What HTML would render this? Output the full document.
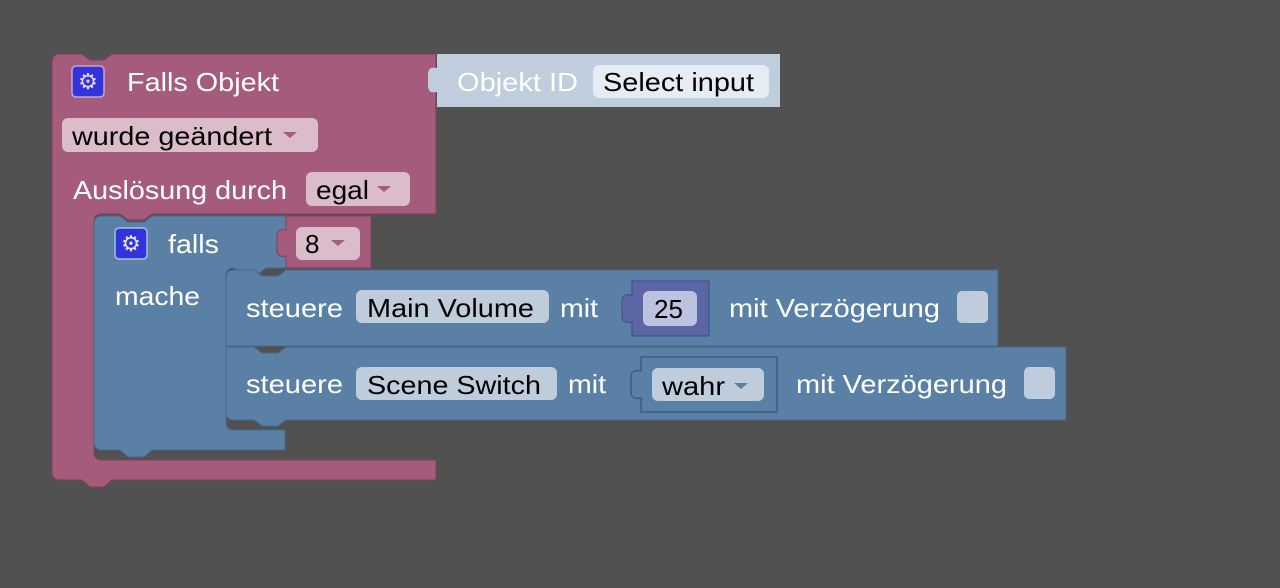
<!DOCTYPE html>
<html><head><meta charset="utf-8"><style>
html,body{margin:0;padding:0;background:#515151;}
svg{display:block;font-family:"Liberation Sans",sans-serif;}
.w{fill:#fff;font-size:26px;}
.b{fill:#000;font-size:26px;}
</style></head><body>
<svg width="1280" height="588" viewBox="0 0 1280 588">
<rect width="1280" height="588" fill="#515151"/>
<!-- pink outer block -->
<path d="M60,54 H82 L90,60 H104 L112,54 H436 V214 H152 L144,220 H128 L120,214 H102 Q94,214 94,222 V452 Q94,460 102,460 H436 V480 H112 L104,487 H90 L82,480 H60 Q52,480 52,472 V62 Q52,54 60,54 Z" fill="#a55b7c" stroke="#7f3f5d" stroke-width="1"/>
<!-- objekt id block -->
<path d="M437,54 H780 V107 H437 V92 Q428,94 428,86 V74 Q428,66 437,68 Z" fill="#bfcddc"/>
<text x="457" y="91" class="w" textLength="121" lengthAdjust="spacingAndGlyphs">Objekt ID</text>
<rect x="593" y="65" width="176" height="33" rx="6" fill="#e6ecf3"/>
<text x="603" y="91" class="b" textLength="151" lengthAdjust="spacingAndGlyphs">Select input</text>
<!-- gear 1 -->
<rect x="72" y="66" width="32" height="31" rx="4" fill="#3333dd" stroke="#c9a7c5" stroke-width="1.5"/>
<text x="88" y="89" text-anchor="middle" style="fill:#e0d6ee;font-size:22px;font-family:'DejaVu Sans',sans-serif">⚙</text>
<text x="127" y="91" class="w" textLength="152" lengthAdjust="spacingAndGlyphs">Falls Objekt</text>
<rect x="62" y="118" width="256" height="34" rx="6" fill="#dbbccb"/>
<text x="72" y="145" class="b" textLength="200" lengthAdjust="spacingAndGlyphs">wurde geändert</text>
<path d="M283,132 h14 l-7,6 z" fill="#a55b7c"/>
<text x="73" y="199" class="w" textLength="214" lengthAdjust="spacingAndGlyphs">Auslösung durch</text>
<rect x="306" y="172" width="104" height="34" rx="6" fill="#dbbccb"/>
<text x="316" y="199" class="b" textLength="53" lengthAdjust="spacingAndGlyphs">egal</text>
<path d="M377,186 h14 l-7,6 z" fill="#a55b7c"/>
<!-- blue falls block -->
<path d="M102,216 H120 L128,222 H144 L152,216 H286 V268 H286 L286,268 H266 L258,274 H242 L234,268 Q226,268 226,276 V422 Q226,430 234,430 H285 V450 H152 L144,457 H128 L120,450 H102 Q94,450 94,442 V224 Q94,216 102,216 Z" fill="#5b80a5" stroke="#466688" stroke-width="1"/>
<!-- pink 8 block -->
<path d="M286,216 H371 V268 H286 V256 Q277,258 277,250 V236 Q277,228 286,230 Z" fill="#a55b7c" stroke="#7f3f5d" stroke-width="1"/>
<rect x="296" y="227" width="64" height="33" rx="6" fill="#dbbccb"/>
<text x="305" y="253" class="b">8</text>
<path d="M331,240 h14 l-7,6 z" fill="#a55b7c"/>
<rect x="115" y="228" width="32" height="31" rx="4" fill="#3333dd" stroke="#a8bfd6" stroke-width="1.5"/>
<text x="131" y="251" text-anchor="middle" style="fill:#e0e6f4;font-size:22px;font-family:'DejaVu Sans',sans-serif">⚙</text>
<text x="168" y="253" class="w" textLength="51" lengthAdjust="spacingAndGlyphs">falls</text>
<text x="115" y="305" class="w" textLength="85" lengthAdjust="spacingAndGlyphs">mache</text>
<!-- steuere 1 -->
<path d="M234,270 H254 L262,276 H278 L286,270 H998 V346 H226 V278 Q226,270 234,270 Z" fill="#5b80a5" stroke="#466688" stroke-width="1"/>
<text x="246" y="317" class="w" textLength="97" lengthAdjust="spacingAndGlyphs">steuere</text>
<rect x="356" y="290" width="193" height="33" rx="6" fill="#bfccdc"/>
<text x="367" y="317" class="b" textLength="167" lengthAdjust="spacingAndGlyphs">Main Volume</text>
<text x="560" y="317" class="w" textLength="38" lengthAdjust="spacingAndGlyphs">mit</text>
<path d="M632,281 H709 V336 H632 V322 Q622,324 622,316 V301 Q622,293 632,295 Z" fill="#5b67a5" stroke="#3f4a85" stroke-width="1"/>
<rect x="643" y="291" width="54" height="35" rx="6" fill="#bdc2e0"/>
<text x="654" y="318" class="b">25</text>
<text x="729" y="317" class="w" textLength="211" lengthAdjust="spacingAndGlyphs">mit Verzögerung</text>
<rect x="957" y="291" width="31" height="32" rx="5" fill="#bfccdc"/>
<!-- steuere 2 -->
<path d="M226,347 H254 L262,353 H278 L286,347 H1066 V420 H286 L278,426 H262 L254,420 H234 Q226,420 226,412 Z" fill="#5b80a5" stroke="#466688" stroke-width="1"/>
<text x="246" y="393" class="w" textLength="97" lengthAdjust="spacingAndGlyphs">steuere</text>
<rect x="356" y="367" width="201" height="33" rx="6" fill="#bfccdc"/>
<text x="367" y="394" class="b" textLength="174" lengthAdjust="spacingAndGlyphs">Scene Switch</text>
<text x="568" y="393" class="w" textLength="38" lengthAdjust="spacingAndGlyphs">mit</text>
<path d="M641,357 H777 V412 H641 V398 Q631,400 631,392 V377 Q631,369 641,371 Z" fill="#5b80a5" stroke="#3f5d80" stroke-width="1.5"/>
<rect x="652" y="368" width="112" height="33" rx="6" fill="#bfccdc"/>
<text x="662" y="395" class="b" textLength="63" lengthAdjust="spacingAndGlyphs">wahr</text>
<path d="M734,383 h14 l-7,6 z" fill="#5b80a5"/>
<text x="796" y="393" class="w" textLength="211" lengthAdjust="spacingAndGlyphs">mit Verzögerung</text>
<rect x="1024" y="367" width="31" height="32" rx="5" fill="#bfccdc"/>
</svg>
</body></html>
